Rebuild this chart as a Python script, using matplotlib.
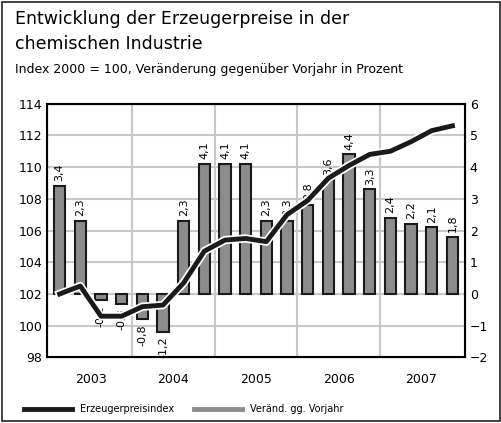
import matplotlib
matplotlib.use("Agg")
import matplotlib.pyplot as plt
import matplotlib.patheffects as pe
import numpy as np

years = ["2003", "2004", "2005", "2006", "2007"]
changes = [3.4, 2.3, -0.2, -0.3, -0.8, -1.2, 2.3, 4.1, 4.1, 4.1, 2.3, 2.3, 2.8, 3.6, 4.4, 3.3, 2.4, 2.2, 2.1, 1.8]
index = [102.0, 102.5, 100.6, 100.6, 101.2, 101.3, 102.7, 104.7, 105.4, 105.5, 105.3, 107.0, 107.9, 109.3, 110.1, 110.8, 111.0, 111.6, 112.3, 112.6]

fig = plt.figure(figsize=(5.02, 4.23), dpi=100)
fig.patches.append(plt.Rectangle((0.004, 0.004), 0.992, 0.992, transform=fig.transFigure,
                                 fill=False, lw=1.2, ec="#222222"))
fig.text(0.03, 0.955, "Entwicklung der Erzeugerpreise in der", fontsize=12.5, va="center")
fig.text(0.03, 0.895, "chemischen Industrie", fontsize=12.5, va="center")
fig.text(0.03, 0.835, "Index 2000 = 100, Veränderung gegenüber Vorjahr in Prozent", fontsize=9, va="center")

ax = fig.add_axes([0.094, 0.155, 0.832, 0.60])
x = np.arange(len(changes))
ax.set_xlim(-0.6, len(changes) - 0.4)
ax.set_ylim(98, 114)
ax.set_yticks(range(98, 115, 2))
for g in range(98, 115, 2):
    ax.axhline(g, color="#c8c8c8", lw=1.5, zorder=0)
for b in [3.5, 7.5, 11.5, 15.5]:
    ax.axvline(b, color="#c8c8c8", lw=1.5, zorder=0)
ax.bar(x, [2 * c for c in changes], bottom=102, width=0.55, color="#8c8c8c",
       edgecolor="#1a1a1a", lw=1.5, zorder=2)
for xi, c in zip(x, changes):
    top = 102 + 2 * c
    y = top + 0.3 if c > 0 else top - 0.3
    ax.text(xi, y, f"{c:.1f}".replace(".", ","), rotation=90, ha="center",
            va="bottom" if c > 0 else "top", fontsize=8, zorder=3)
ax.plot(x, index, color="#1a1a1a", lw=3.5, zorder=4,
        path_effects=[pe.Stroke(linewidth=6, foreground="white"), pe.Normal()])
ax.set_xticks([])
for i, yr in enumerate(years):
    ax.text(1.5 + 4 * i, -0.06, yr, transform=ax.get_xaxis_transform(), ha="center", va="top", fontsize=9)
for s in ax.spines.values():
    s.set_linewidth(1.5)
ax.tick_params(axis="y", length=0, labelsize=9)
ax2 = ax.twinx()
ax2.set_ylim(-2, 6)
ax2.set_yticks(range(-2, 7))
ax2.tick_params(axis="y", length=0, labelsize=9)

fig.legend(handles=[plt.Line2D([], [], color="#1a1a1a", lw=3.5),
                    plt.Line2D([], [], color="#8c8c8c", lw=3.5)],
           labels=["Erzeugerpreisindex", "Veränd. gg. Vorjahr"],
           loc="lower left", bbox_to_anchor=(0.03, 0.0), ncol=2, frameon=False,
           fontsize=7, handlelength=5, columnspacing=2)
fig.savefig("out.png", dpi=100)
